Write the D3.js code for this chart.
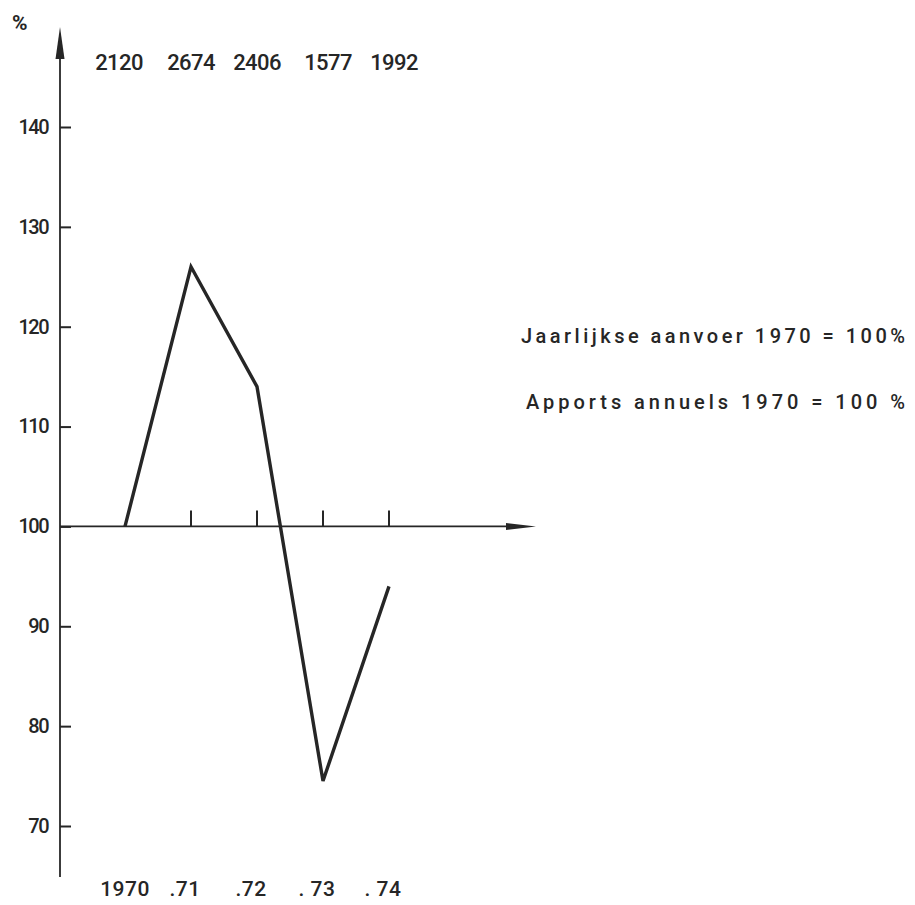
<!DOCTYPE html>
<html>
<head>
<meta charset="utf-8">
<script src="https://cdn.jsdelivr.net/npm/d3@7"></script>
<style>
  html, body { margin: 0; padding: 0; background: #fff; }
  svg { display: block; }
  text { font-family: Roboto, "DejaVu Sans", sans-serif; font-weight: 500; fill: #262626; }
</style>
</head>
<body>
<svg id="chart" width="915" height="905"></svg>
<script>
// data
const years = [1970, 1971, 1972, 1973, 1974];
const yearLabels = ["1970", ".71", ".72", ". 73", ". 74"];
const tonnes = ["2120", "2674", "2406", "1577", "1992"];
const percent = [100, 126, 114, 74.5, 94];
const yTicks = [70, 80, 90, 100, 110, 120, 130, 140];
const legendLines = ["Jaarlijkse aanvoer 1970 = 100%", "Apports annuels  1970 = 100 %"];

const svg = d3.select('#chart');
const ink = '#262626';

let axisX = 60,
    x = d3.scaleLinear().domain([1970, 1974]).range([125, 389]),
    y = d3.scaleLinear().domain([70, 140]).range([826, 127]);

// y axis, ticks point right
let yAxis = svg.append('g')
    .attr('transform', `translate(${axisX},0)`)
    .call(d3.axisLeft(y).tickValues(yTicks).tickSize(-11).tickPadding(12).tickFormat(d3.format('d')));
yAxis.select('.domain').remove();
yAxis.selectAll('.tick line').attr('stroke', ink).attr('stroke-width', 2);
yAxis.selectAll('.tick text')
    .attr('font-size', 20)
    .attr('letter-spacing', -1.5)
    .attr('fill', ink)
    .style('font-family', 'Roboto, sans-serif')
    .style('font-weight', 500);

svg.append('line')
    .attr('x1', axisX).attr('x2', axisX)
    .attr('y1', 877).attr('y2', 45)
    .attr('stroke', ink).attr('stroke-width', 1.8);
// arrowhead on y axis
svg.append('path')
    .attr('d', `M${axisX},27 L${axisX + 4.5},59 L${axisX - 4.5},59 Z`)
    .attr('fill', ink);

svg.append('text')
    .attr('x', 12).attr('y', 30)
    .style('font-size', '21px')
    .style('font-weight', 'bold')
    .text('%');

// x axis at 100%
let y100 = y(100);
svg.append('line')
    .attr('x1', axisX).attr('x2', 515)
    .attr('y1', y100).attr('y2', y100)
    .attr('stroke', ink).attr('stroke-width', 1.8);
svg.append('path')
    .attr('d', `M536,${y100} L506,${y100 - 3.5} L506,${y100 + 3.5} Z`)
    .attr('fill', ink);

svg.append('g')
    .selectAll('line')
    .data(years.slice(1))
    .join('line')
    .attr('x1', d => x(d)).attr('x2', d => x(d))
    .attr('y1', y100).attr('y2', y100 - 16)
    .attr('stroke', ink).attr('stroke-width', 2);

// tonnage labels above
svg.append('g')
    .selectAll('text')
    .data(tonnes)
    .join('text')
    .attr('x', (d, i) => x(years[i]) + (i == 0 ? -6 : i > 2 ? 5 : 0))
    .attr('y', 70)
    .attr('text-anchor', 'middle')
    .attr('font-size', 22)
    .attr('letter-spacing', -0.6)
    .text(d => d);

// year labels below
svg.append('g')
    .selectAll('text')
    .data(yearLabels)
    .join('text')
    .attr('x', (d, i) => x(years[i]) - (i == 0 ? 0 : 6))
    .attr('y', 896)
    .attr('text-anchor', 'middle')
    .attr('font-size', 21)
    .attr('letter-spacing', 0.5)
    .text(d => d);

// the line
let line = d3.line()
    .x((d, i) => x(years[i]))
    .y(d => y(d));
svg.append('path')
    .datum(percent)
    .attr('d', line)
    .attr('fill', 'none')
    .attr('stroke', ink)
    .attr('stroke-width', 3.4)
    .attr('stroke-linejoin', 'miter');

// legend text
let legendPos = [[521, 343, 384], [526, 409, 379]];
svg.append('g')
    .selectAll('text')
    .data(legendLines)
    .join('text')
    .attr('x', (d, i) => legendPos[i][0])
    .attr('y', (d, i) => legendPos[i][1])
    .attr('textLength', (d, i) => legendPos[i][2])
    .attr('lengthAdjust', 'spacing')
    .attr('font-size', 20)
    .text(d => d);
</script>
</body>
</html>
